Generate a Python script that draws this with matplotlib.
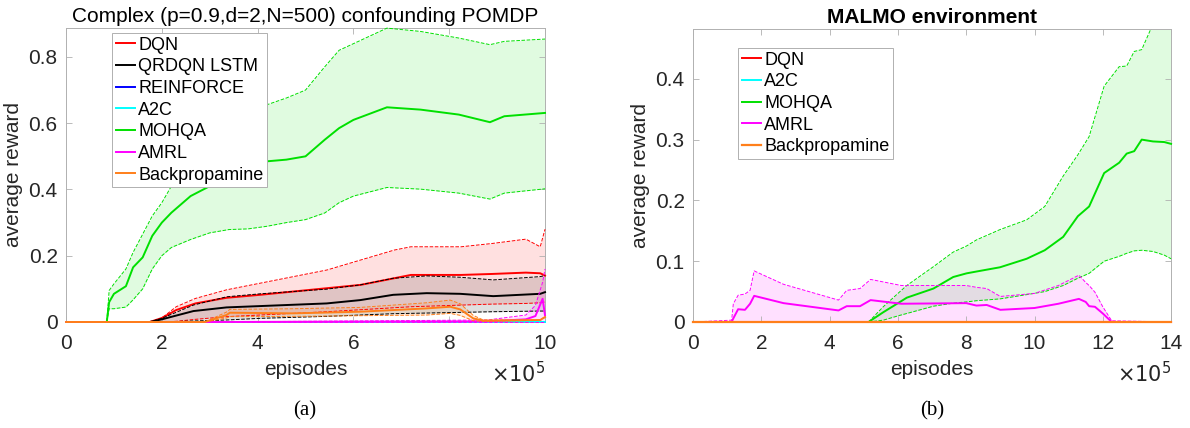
import numpy as np
import matplotlib
matplotlib.use("Agg")
import matplotlib.pyplot as plt

plt.rcParams['font.family'] = ['Liberation Sans', 'DejaVu Sans']

# x values are in units of 1e5 episodes

# ---- (a) confounding POMDP ----
a_mohqa_x = [0, 0.85, 0.9, 1.0, 1.25, 1.4, 1.6, 1.8, 2.0, 2.2, 2.6, 3.0, 3.4, 3.8, 4.2, 4.6,
             5.0, 5.4, 5.7, 6.0, 6.7, 7.4, 8.2, 8.85, 9.15, 10]
a_mohqa_m = [0, 0, 0.06, 0.085, 0.108, 0.165, 0.195, 0.26, 0.30, 0.33, 0.38, 0.41, 0.45, 0.47,
             0.485, 0.49, 0.50, 0.55, 0.585, 0.61, 0.648, 0.641, 0.626, 0.603, 0.621, 0.631]
a_mohqa_hi = [0, 0, 0.095, 0.115, 0.16, 0.21, 0.265, 0.32, 0.36, 0.41, 0.47, 0.53, 0.58, 0.62,
              0.656, 0.676, 0.70, 0.77, 0.82, 0.84, 0.887, 0.877, 0.857, 0.837, 0.847, 0.854]
a_mohqa_lo = [0, 0, 0.04, 0.04, 0.045, 0.067, 0.10, 0.16, 0.20, 0.225, 0.249, 0.269, 0.279, 0.281,
              0.289, 0.30, 0.309, 0.329, 0.36, 0.38, 0.406, 0.401, 0.389, 0.371, 0.389, 0.402]

a_dqn_x = [0, 1.75, 2.0, 2.3, 2.7, 3.35, 4.05, 4.75, 5.45, 6.15, 6.85, 7.2, 8.25, 8.9, 9.6, 9.9, 10]
a_dqn_m = [0, 0, 0.012, 0.036, 0.056, 0.073, 0.082, 0.092, 0.102, 0.112, 0.132, 0.142, 0.142,
           0.145, 0.149, 0.147, 0.14]
a_dqn_hi = [0, 0, 0.012, 0.046, 0.071, 0.097, 0.117, 0.137, 0.157, 0.187, 0.217, 0.227, 0.227,
            0.237, 0.25, 0.227, 0.28]
a_dqn_lo = [0, 0, 0, 0.002, 0.008, 0.016, 0.021, 0.026, 0.031, 0.037, 0.043, 0.046, 0.051,
            0.054, 0.056, 0.058, 0.06]

a_qr_x = [0, 1.75, 2.0, 2.66, 3.35, 4.05, 5.44, 6.14, 6.83, 7.53, 8.23, 8.92, 9.9, 10]
a_qr_m = [0, 0, 0.008, 0.033, 0.044, 0.048, 0.056, 0.066, 0.082, 0.087, 0.085, 0.078, 0.085, 0.09]
a_qr_hi = [0, 0, 0.011, 0.051, 0.076, 0.085, 0.099, 0.112, 0.132, 0.139, 0.135, 0.127, 0.137, 0.14]
a_qr_lo = [0, 0, 0, 0.003, 0.006, 0.011, 0.017, 0.021, 0.025, 0.027, 0.029, 0.031, 0.033, 0.033]

a_bp_x = [0, 2.9, 3.35, 3.42, 4.75, 6.14, 7.53, 8.02, 8.23, 8.5, 8.71, 9.9, 10]
a_bp_m = [0, 0, 0.021, 0.028, 0.026, 0.031, 0.041, 0.046, 0.038, 0.011, 0.004, 0.006, 0.015]
a_bp_hi = [0, 0, 0.03, 0.038, 0.040, 0.044, 0.058, 0.066, 0.055, 0.02, 0.006, 0.006, 0.016]
a_bp_lo = [0, 0, 0.012, 0.016, 0.017, 0.019, 0.021, 0.026, 0.02, 0.004, 0.002, 0.005, 0.014]

a_amrl_x = [0, 3.0, 8.8, 9.6, 9.8, 9.95, 10]
a_amrl_m = [0, 0, 0.002, 0.008, 0.018, 0.07, 0.02]
a_amrl_hi = [0, 0, 0.006, 0.021, 0.05, 0.12, 0.16]
a_amrl_lo = [0, 0, 0, 0, 0, 0, 0]

a_flat_x = [0, 10]
a_flat_y = [0, 0]

# ---- (b) MALMO ----
b_mohqa_x = [0, 5.14, 5.57, 6.06, 6.26, 7.04, 7.62, 8.01, 8.3, 8.99, 9.77, 10.3, 10.84, 11.27,
             11.6, 12.04, 12.48, 12.7, 12.92, 13.14, 13.47, 13.8, 14]
b_mohqa_m = [0, 0, 0.016, 0.033, 0.04, 0.055, 0.074, 0.08, 0.083, 0.09, 0.104, 0.118, 0.14, 0.174,
             0.19, 0.245, 0.262, 0.277, 0.281, 0.30, 0.297, 0.296, 0.293]
b_mohqa_hi = [0, 0, 0.025, 0.05, 0.06, 0.091, 0.115, 0.125, 0.135, 0.152, 0.168, 0.19, 0.24, 0.275,
              0.305, 0.388, 0.42, 0.421, 0.445, 0.448, 0.49, 0.49, 0.49]
b_mohqa_lo = [0, 0, 0.003, 0.011, 0.014, 0.026, 0.031, 0.033, 0.035, 0.038, 0.045, 0.05, 0.06,
              0.072, 0.08, 0.10, 0.108, 0.113, 0.117, 0.118, 0.116, 0.11, 0.104]

b_amrl_x = [0, 1.13, 1.18, 1.32, 1.52, 1.67, 1.79, 2.65, 4.26, 4.5, 4.89, 5.2, 6.1, 8.0, 8.3,
            8.6, 9.0, 10.0, 10.7, 11.3, 11.5, 11.6, 11.77, 12.0, 12.26, 14]
b_amrl_m = [0, 0, 0.006, 0.021, 0.02, 0.03, 0.043, 0.031, 0.019, 0.026, 0.026, 0.036, 0.030,
            0.031, 0.027, 0.028, 0.020, 0.023, 0.030, 0.038, 0.033, 0.026, 0.025, 0.014, 0, 0]
b_amrl_hi = [0, 0.003, 0.03, 0.044, 0.046, 0.052, 0.084, 0.062, 0.036, 0.052, 0.055, 0.070, 0.060,
             0.060, 0.057, 0.055, 0.042, 0.047, 0.060, 0.077, 0.065, 0.060, 0.049, 0.025, 0.002, 0]
b_amrl_lo = [0] * 26

b_flat_x = [0, 14]
b_flat_y = [0, 0]

C_RED = '#ff0000'
C_BLACK = '#000000'
C_BLUE = '#0000ff'
C_CYAN = '#00ffff'
C_GREEN = '#00e000'
C_MAG = '#ff00ff'
C_ORANGE = '#ff7f1a'


def line(ax, x, y, style_, color, lw, ymax, label=None):
    # lines lying on the x axis are drawn over it like MATLAB does
    l, = ax.plot(x, y, style_, color=color, lw=lw, label=label, zorder=3)
    l.set_clip_on(max(y) > ymax)
    return l


def band(ax, x, m, hi, lo, color, label, ymax):
    ax.fill_between(x, lo, hi, color=color, alpha=0.12, linewidth=0)
    line(ax, x, hi, '--', color, 0.7, ymax)
    line(ax, x, lo, '--', color, 0.7, ymax)
    return line(ax, x, m, '-', color, 1.4, ymax, label)


def style(ax, xmax, ymax, yticks, title, bold):
    ax.set_xlim(0, xmax)
    ax.set_ylim(0, ymax)
    ax.set_yticks(yticks)
    ax.set_yticklabels(['0' if v == 0 else ('%g' % v) for v in yticks])
    ax.set_xticks(np.arange(0, xmax + 1, 2))
    ax.tick_params(direction='in', length=4, width=0.6, top=True, right=True,
                   labelsize=15, colors='#b0b0b0', labelcolor='#262626')
    ax.tick_params(axis='y', pad=6)
    ax.tick_params(axis='x', pad=9)
    for s in ax.spines.values():
        s.set_color('#b0b0b0')
        s.set_linewidth(0.7)
    ax.set_xlabel('episodes', fontsize=15, color='#262626', labelpad=5)
    ax.set_ylabel('average reward', fontsize=15, color='#262626', labelpad=4)
    ax.set_title(title, fontsize=15, fontweight='bold' if bold else 'normal', pad=4)
    ax.text(1.0, -0.175, r'$\times10^5$', transform=ax.transAxes, ha='right', va='center',
            fontsize=15, color='#262626')


def legend(ax, handles, anchor):
    leg = ax.legend(handles=handles, loc='upper left', bbox_to_anchor=anchor, borderaxespad=0,
                    fontsize=13, handlelength=1.1, handletextpad=0.15, labelspacing=0.26,
                    borderpad=0.2, fancybox=False, framealpha=1, edgecolor='#b0b0b0')
    leg.get_frame().set_linewidth(0.7)
    leg.set_zorder(5)
    return leg


fig = plt.figure(figsize=(11.9, 4.28), dpi=100)
ax1 = fig.add_axes([0.0555, 0.2477, 0.4025, 0.687])
ax2 = fig.add_axes([0.5824, 0.2477, 0.4017, 0.6846])

# (a)
Y1 = 0.8875
h = []
h.append(band(ax1, a_dqn_x, a_dqn_m, a_dqn_hi, a_dqn_lo, C_RED, 'DQN', Y1))
h.append(band(ax1, a_qr_x, a_qr_m, a_qr_hi, a_qr_lo, C_BLACK, 'QRDQN LSTM', Y1))
h.append(line(ax1, a_flat_x, a_flat_y, '-', C_BLUE, 1.4, Y1, 'REINFORCE'))
h.append(line(ax1, a_flat_x, a_flat_y, '-', C_CYAN, 1.4, Y1, 'A2C'))
h.append(band(ax1, a_mohqa_x, a_mohqa_m, a_mohqa_hi, a_mohqa_lo, C_GREEN, 'MOHQA', Y1))
h.append(band(ax1, a_amrl_x, a_amrl_m, a_amrl_hi, a_amrl_lo, C_MAG, 'AMRL', Y1))
h.append(band(ax1, a_bp_x, a_bp_m, a_bp_hi, a_bp_lo, C_ORANGE, 'Backpropamine', Y1))
style(ax1, 10, Y1, [0, 0.2, 0.4, 0.6, 0.8],
      'Complex (p=0.9,d=2,N=500) confounding POMDP', False)
legend(ax1, h, (0.096, 0.983))

# (b)
Y2 = 0.482
h2 = []
h2.append(line(ax2, b_flat_x, b_flat_y, '-', C_RED, 1.4, Y2, 'DQN'))
h2.append(line(ax2, b_flat_x, b_flat_y, '-', C_CYAN, 1.4, Y2, 'A2C'))
h2.append(band(ax2, b_mohqa_x, b_mohqa_m, b_mohqa_hi, b_mohqa_lo, C_GREEN, 'MOHQA', Y2))
h2.append(band(ax2, b_amrl_x, b_amrl_m, b_amrl_hi, b_amrl_lo, C_MAG, 'AMRL', Y2))
h2.append(line(ax2, b_flat_x, b_flat_y, '-', C_ORANGE, 1.6, Y2, 'Backpropamine'))
style(ax2, 14, Y2, [0, 0.1, 0.2, 0.3, 0.4], 'MALMO environment', True)
legend(ax2, h2, (0.094, 0.935))

fig.text(305 / 1190, 1 - 411 / 428, '(a)', ha='center', va='center', fontsize=15,
         family='Liberation Serif')
fig.text(932 / 1190, 1 - 411 / 428, '(b)', ha='center', va='center', fontsize=15,
         family='Liberation Serif')

fig.savefig('out.png', dpi=100)
